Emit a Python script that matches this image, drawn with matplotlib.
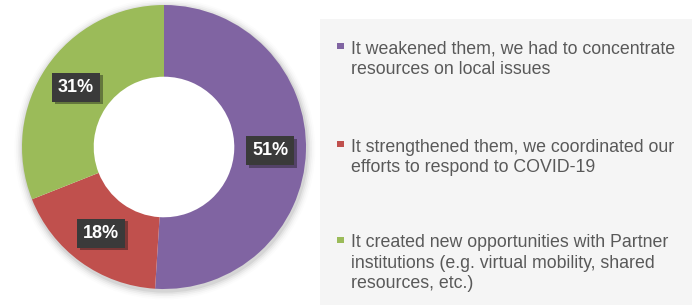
import matplotlib
matplotlib.use("Agg")
import matplotlib.pyplot as plt
from matplotlib.patches import Rectangle, Wedge
import matplotlib.patheffects as pe
import numpy as np

categories = [
    "It weakened them, we had to concentrate\nresources on local issues",
    "It strengthened them, we coordinated our\nefforts to respond to COVID-19",
    "It created new opportunities with Partner\ninstitutions (e.g. virtual mobility, shared\nresources, etc.)",
]
values = [51, 18, 31]
labels = ["51%", "18%", "31%"]
colors = ["#8064A2", "#C0504D", "#9BBB59"]

plt.rcParams['font.family'] = ['Liberation Sans', 'DejaVu Sans']

W, H = 695, 307
fig = plt.figure(figsize=(W / 100, H / 100), dpi=100)
fig.patch.set_facecolor("white")

# legend background panel
fig.patches.append(Rectangle((320 / W, (H - 305) / H), 372 / W, 286 / H,
                             transform=fig.transFigure, facecolor="#F5F5F5",
                             edgecolor="none", zorder=0))

cx, cy, r = 164, 147, 142
ax = fig.add_axes([(cx - r) / W, (H - cy - r) / H, 2 * r / W, 2 * r / H])
ax.axis("off")

# soft outer shadow (rings only outside the donut)
for i, a in enumerate([0.06, 0.045, 0.03, 0.02, 0.01]):
    ax.add_patch(Wedge((0.006, -0.014), 1.0 + 0.012 * (i + 1), 0, 360,
                       width=0.012 * (i + 1) + 0.02, facecolor="#000000",
                       alpha=a, edgecolor="none", zorder=0, clip_on=False))

wedges, texts = ax.pie(values, colors=colors, startangle=90, counterclock=False,
                       radius=1.0, wedgeprops=dict(width=0.505, edgecolor="none"),
                       labels=None)
for w in wedges:
    w.set_zorder(2)
ax.set_xlim(-1.0, 1.0)
ax.set_ylim(-1.0, 1.0)
ax.set_aspect("equal")

start = 90.0
total = sum(values)
for v, lab in zip(values, labels):
    ang = np.deg2rad(start - 360 * v / total / 2)
    start -= 360 * v / total
    rr = 0.75
    ax.text(rr * np.cos(ang), rr * np.sin(ang), lab, ha="center", va="center",
            color="white", fontsize=13, fontweight="bold", zorder=5,
            bbox=dict(boxstyle="square,pad=0.33", facecolor="#3A3A3A",
                      edgecolor="none",
                      path_effects=[pe.SimplePatchShadow(offset=(2, -2), alpha=0.4),
                                    pe.Normal()]))

# legend drawn as text + square markers, marker aligned with first line
baselines = [54, 152, 248]
line_px = 20
for cat, col, yb in zip(categories, colors, baselines):
    nlines = cat.count("\n") + 1
    y_last = yb + line_px * (nlines - 1)
    fig.text(351 / W, (H - y_last) / H, cat, ha="left", va="baseline",
             fontsize=12.8, color="#595959", linespacing=1.26)
    fig.patches.append(Rectangle((337 / W, (H - yb + 5) / H), 6.5 / W, 6.5 / H,
                                 transform=fig.transFigure, facecolor=col,
                                 edgecolor="none", zorder=3))

fig.savefig("out.png", dpi=100, facecolor="white")
